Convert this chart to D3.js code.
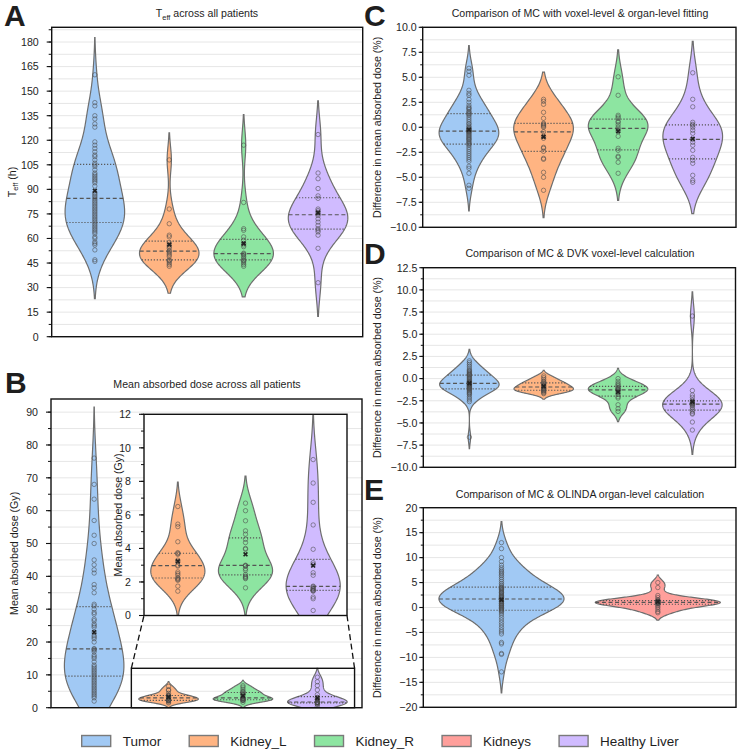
<!DOCTYPE html>
<html>
<head>
<meta charset="utf-8">
<script src="https://cdn.jsdelivr.net/npm/d3@7"></script>
<style>
  body { margin: 0; background: #fff; }
  svg { display: block; }
  text { font-family: "Liberation Sans", Arial, sans-serif; fill: #1e1e1e; }
</style>
</head>
<body>
<svg id="chart" width="742" height="752"></svg>
<script>
// ---------------- DATA ----------------
const categories = ["Tumor", "Kidney_L", "Kidney_R", "Kidneys", "Healthy Liver"];
const palette = ["#a1c9f4", "#ffb482", "#8de5a1", "#ff9f9b", "#d0bbff"];

// Panel A: effective half-life T_eff (h)
const teffTumor = [160,143,141,135,133,130,128,119,117,115,113,111,110,108,106,105,104,102,100,99,98,97,96,95,94,92,88,87,86,85,84,83,82,81,80,79,78,77,76,75,74,73,72,71,70,69,68,67,66,65,64,63,61,60,58,57,56,53,47,46];
const teffKidneyL = [108,78,69,62,61,57.5,56,55,54,52.5,52,51,50,49,47,46.5,46,45,44,43];
const teffKidneyR = [117,82,66,65,61,59,57,56,55,50.5,51,50,49,48,47,46.5,46,45,44,43];
const teffLiver = [123.5,100,96.5,90.5,86,84.5,78,77,76,75,74,72,70,68,66,65,64,62,54,33];

// Panel B: mean absorbed dose (Gy)
const doseTumor = [76,68,63.5,57,52.5,50,45,43.5,42,41,37.5,36.5,35,26.5,27,31.5,31,30,29,28.5,25.5,25,24.5,23,22,21.5,21,20,17.8,18,17.5,17,16,15.5,15,14,13,12.5,12,11.5,11,10.5,10,9.5,9,8.5,8,7.5,7,6.5,6,5.5,5,4.5,4,3.5,3,2];
const doseKidneyL = [6.5,5.45,5.3,4.4,3.75,3.7,3.65,3.3,3.2,3.0,2.95,2.6,2.5,2.4,2.25,2.2,2.15,2.1,1.75,1.45];
const doseKidneyR = [6.7,6.25,5.65,5.05,4.85,4.55,4.35,4.0,3.95,2.97,3.0,2.95,2.8,2.7,2.45,2.35,2.3,2.25,2.2,1.65];
const doseLiver = [9.3,7.9,6.75,5.4,3.95,3.15,3.05,2.55,2.4,1.75,1.72,1.65,1.6,1.55,1.5,1.48,1.45,1.1,1.0,0.3];

// Panel C: MC voxel-level vs organ-level fitting (%)
const fitTumor = [5.9,5.6,5.2,3.7,3.4,3.2,2.8,2.5,2.2,2.0,1.9,1.8,1.6,1.5,1.4,1.3,1.2,1.0,0.8,0.6,0.4,0.3,0.1,0.0,-0.1,-0.2,-0.25,-0.3,-0.35,-0.4,-0.45,-0.5,-0.6,-0.7,-0.8,-0.9,-1.0,-1.1,-1.2,-1.25,-1.4,-1.5,-1.6,-1.7,-1.8,-2.0,-2.2,-2.4,-2.6,-2.8,-3.0,-3.2,-3.4,-3.9,-4.1,-4.6,-5.8,-6.1];
const fitKidneyL = [2.8,2.6,2.3,1.5,0.9,0.4,0.3,0.2,0.1,0.0,-0.45,-0.9,-1.1,-2.0,-2.1,-2.4,-3.1,-3.2,-4.5,-5.0,-6.3];
const fitKidneyR = [5.05,3.2,1.2,1.05,0.9,0.6,0.5,0.25,0.0,-0.2,-0.4,-0.9,-2.1,-2.3,-2.9,-3.0,-3.5,-4.6];
const fitLiver = [5.45,2.8,2.05,0.5,0.3,0.2,0.0,-0.3,-0.6,-1.2,-1.5,-1.8,-2.3,-3.0,-3.3,-3.6,-4.8,-5.3,-5.5];

// Panel D: MC vs DVK voxel-level (%)
const dvkTumor = [2.0,1.8,1.6,1.4,1.2,1.0,0.9,0.8,0.7,0.6,0.5,0.45,0.4,0.3,0.2,0.1,0.0,-0.1,-0.2,-0.3,-0.35,-0.4,-0.45,-0.5,-0.55,-0.6,-0.65,-0.7,-0.75,-0.8,-0.85,-0.9,-0.95,-1.0,-1.05,-1.1,-1.15,-1.2,-1.3,-1.4,-1.5,-1.6,-1.7,-1.8,-2.0,-2.2,-2.4,-2.6,-6.6];
const dvkKidneyL = [0.3,0.1,-0.1,-0.3,-0.4,-0.5,-0.6,-0.7,-0.8,-0.9,-1.0,-1.1,-1.15,-1.2,-1.3,-1.35,-1.4,-1.5,-1.6,-1.7];
const dvkKidneyR = [0.0,-0.3,-0.55,-0.7,-0.85,-1.0,-1.1,-1.2,-1.25,-1.3,-1.4,-1.6,-1.8,-2.05,-2.2,-2.95,-3.4,-3.7];
const dvkLiver = [7.05,-1.35,-1.85,-2.1,-2.4,-2.55,-2.65,-2.75,-2.8,-2.85,-2.9,-3.0,-3.1,-3.3,-3.5,-3.7,-3.9,-4.0,-4.9,-5.8];

// Panel E: MC vs OLINDA organ-level (%)
const olindaTumor = [13.0,11.8,10.0,9.2,8.5,8.0,7.6,7.3,7.0,6.7,6.4,6.0,5.6,5.2,4.8,4.5,4.2,4.0,3.9,3.8,3.6,3.5,3.3,3.1,3.0,2.9,2.7,2.5,2.4,2.2,2.1,2.0,1.9,1.7,1.6,1.5,1.3,1.2,1.1,0.9,0.8,0.7,0.5,0.4,0.3,0.1,0.0,-0.2,-0.3,-0.5,-0.6,-0.8,-1.1,-1.5,-2.0,-2.5,-3.0,-3.5,-4.0,-4.5,-4.9,-5.3,-7.0,-7.3,-9.2,-9.4,-12.9];
const olindaKidneys = [5.0,4.0,2.4,2.0,1.6,1.4,1.3,1.2,1.15,1.1,1.05,1.0,0.95,0.9,0.85,0.8,0.6,0.3,0.0,-0.4,-0.8,-1.05];

// Tick values
const ticksA = [0,15,30,45,60,75,90,105,120,135,150,165,180];
const ticksB = [0,10,20,30,40,50,60,70,80,90];
const ticksInset = [0,2,4,6,8,10,12];
const ticksC = [-10,-7.5,-5,-2.5,0,2.5,5,7.5,10];
const ticksD = [-10,-7.5,-5,-2.5,0,2.5,5,7.5,10,12.5];
const ticksE = [-20,-15,-10,-5,0,5,10,15,20];

const titles = {
  B: "Mean absorbed dose across all patients",
  C: "Comparison of MC with voxel-level & organ-level fitting",
  D: "Comparison of MC & DVK voxel-level calculation",
  E: "Comparison of MC & OLINDA organ-level calculation"
};
const diffLabel = "Difference in mean absorbed dose (%)";
const doseLabel = "Mean absorbed dose (Gy)";

// ---------------- HELPERS ----------------
const svg = d3.select("#chart");
const FONT = 10.6;
let clipId = 0;

function kde(values) {
  const n = values.length;
  const bw = d3.deviation(values) * Math.pow(n, -0.2);
  const lo = d3.min(values) - 2 * bw, hi = d3.max(values) + 2 * bw;
  const f = t => d3.sum(values, v => Math.exp(-0.5 * ((t - v) / bw) ** 2)) / (n * bw * Math.sqrt(2 * Math.PI));
  const pts = d3.range(201).map(i => { const t = lo + (hi - lo) * i / 200; return [t, f(t)]; });
  return { pts, f, maxD: d3.max(pts, p => p[1]) };
}

function makeClip(box) {
  const id = "clip" + (clipId++);
  svg.append("clipPath").attr("id", id).append("rect")
    .attr("x", box.x0).attr("y", box.y0).attr("width", box.x1 - box.x0).attr("height", box.y1 - box.y0);
  return "url(#" + id + ")";
}

function grid(g, box, y, step) {
  const [a, b] = y.domain();
  const vals = d3.range(Math.ceil(a / step) * step, b + 1e-9, step);
  g.selectAll(null).data(vals).join("line")
    .attr("x1", box.x0).attr("x2", box.x1)
    .attr("y1", d => y(d)).attr("y2", d => y(d))
    .attr("stroke", "#e6e6e6").attr("stroke-width", 1);
}

function frame(g, box, y, majors, minorStep, fmt, opt) {
  g.append("rect").attr("x", box.x0).attr("y", box.y0)
    .attr("width", box.x1 - box.x0).attr("height", box.y1 - box.y0)
    .attr("fill", "none").attr("stroke", "#111").attr("stroke-width", 1.4);
  const [a, b] = y.domain();
  const minors = d3.range(Math.ceil(a / minorStep) * minorStep, b + 1e-9, minorStep);
  g.selectAll(null).data(minors).join("line")
    .attr("x1", box.x0 - opt.minorLen).attr("x2", box.x0)
    .attr("y1", d => y(d)).attr("y2", d => y(d))
    .attr("stroke", "#111").attr("stroke-width", 1);
  g.selectAll(null).data(majors).join("line")
    .attr("x1", box.x0 - opt.majorLen).attr("x2", box.x0)
    .attr("y1", d => y(d)).attr("y2", d => y(d))
    .attr("stroke", "#111").attr("stroke-width", 1.1);
  g.selectAll(null).data(majors).join("text")
    .attr("x", box.x0 - opt.gap).attr("y", d => y(d)).attr("dy", "0.36em")
    .attr("text-anchor", "end").attr("font-size", FONT)
    .text(d => fmt(d));
}

function violin(g, x, y, values, pos, color) {
  const k = kde(values);
  const cx = x(pos);
  const half = x(pos + 0.4) - cx;
  const hw = d => half * d / k.maxD;
  const area = d3.area().y(p => y(p[0])).x0(p => cx - hw(p[1])).x1(p => cx + hw(p[1]));
  g.append("path").attr("d", area(k.pts)).attr("fill", color)
    .attr("stroke", "#6e6e6e").attr("stroke-width", 1.2);
  const sorted = values.slice().sort(d3.ascending);
  [[0.25, "1.2,1.8"], [0.5, "4,2.6"], [0.75, "1.2,1.8"]].forEach(([p, dash]) => {
    const q = d3.quantile(sorted, p);
    const w = hw(k.f(q));
    g.append("line").attr("x1", cx - w).attr("x2", cx + w)
      .attr("y1", y(q)).attr("y2", y(q))
      .attr("stroke", "#555").attr("stroke-width", 1.2).attr("stroke-dasharray", dash);
  });
  g.selectAll(null).data(values).join("circle")
    .attr("cx", cx).attr("cy", d => y(d)).attr("r", 2.2)
    .attr("fill", "none").attr("stroke", "#4a4a4a").attr("stroke-opacity", 0.7).attr("stroke-width", 0.8);
  const m = y(d3.mean(values));
  g.append("path").attr("d", `M${cx-1.9},${m-1.9}L${cx+1.9},${m+1.9}M${cx-1.9},${m+1.9}L${cx+1.9},${m-1.9}`)
    .attr("stroke", "#222").attr("stroke-width", 1.7);
}

function ylabel(cx, cy, parts) {
  const t = svg.append("text").attr("transform", `translate(${cx},${cy}) rotate(-90)`)
    .attr("text-anchor", "middle").attr("dy", "0.36em").attr("font-size", FONT);
  parts.forEach(p => {
    const s = t.append("tspan").text(p.t);
    if (p.sub) s.attr("font-size", FONT * 0.7).attr("dy", 2.5);
    if (p.after) s.attr("dy", -2.5);
  });
}
function title(cx, cy, parts) {
  const t = svg.append("text").attr("x", cx).attr("y", cy).attr("text-anchor", "middle").attr("font-size", FONT);
  parts.forEach(p => {
    const s = t.append("tspan").text(p.t);
    if (p.sub) s.attr("font-size", FONT * 0.7).attr("dy", 2.5);
    if (p.after) s.attr("dy", -2.5);
  });
}
function letter(x, y, s) {
  svg.append("text").attr("x", x).attr("y", y).attr("font-size", 30).attr("font-weight", "bold").text(s);
}

const fmtInt = d3.format("d");
const fmt1 = d3.format(".1f");
const bigTicks = { majorLen: 5, minorLen: 3, gap: 13 };
const smallTicks = { majorLen: 4, minorLen: 2.5, gap: 6 };

// ---------------- PANEL A ----------------
{
  const box = { x0: 51.7, x1: 362.7, y0: 27.3, y1: 336.7 };
  const x = d3.scaleLinear().domain([-0.58, 3.6]).range([box.x0, box.x1]);
  const y = d3.scaleLinear().domain([0, 189]).range([box.y1, box.y0]);
  const g = svg.append("g");
  grid(g, box, y, 7.5);
  const gv = svg.append("g").attr("clip-path", makeClip(box));
  [[teffTumor, 0], [teffKidneyL, 1], [teffKidneyR, 2], [teffLiver, 4]].forEach(([v, c], i) => violin(gv, x, y, v, i, palette[c]));
  frame(svg.append("g"), box, y, ticksA, 7.5, fmtInt, bigTicks);
  ylabel(12, (box.y0 + box.y1) / 2, [{ t: "T" }, { t: "eff", sub: true }, { t: " (h)", after: true }]);
  title(207, 17, [{ t: "T" }, { t: "eff", sub: true }, { t: " across all patients", after: true }]);
  letter(4, 26, "A");
}

// ---------------- PANEL B ----------------
{
  const box = { x0: 51, x1: 362, y0: 399, y1: 707.7 };
  const x = d3.scaleLinear().domain([-0.58, 3.6]).range([box.x0, box.x1]);
  const y = d3.scaleLinear().domain([0, 94]).range([box.y1, box.y0]);
  const g = svg.append("g");
  grid(g, box, y, 5);
  const gv = svg.append("g").attr("clip-path", makeClip(box));
  [[doseTumor, 0], [doseKidneyL, 1], [doseKidneyR, 2], [doseLiver, 4]].forEach(([v, c], i) => violin(gv, x, y, v, i, palette[c]));

  // inset (zoom of 0–12 Gy for the organs)
  const ib = { x0: 144, x1: 347, y0: 414.3, y1: 615.5 };
  const zoomLo = 0, zoomHi = 12, zx0 = 0.5, zx1 = 3.5;
  const gz = svg.append("g");
  gz.append("rect").attr("x", x(zx0)).attr("y", y(zoomHi)).attr("width", x(zx1) - x(zx0)).attr("height", y(zoomLo) - y(zoomHi))
    .attr("fill", "none").attr("stroke", "#111").attr("stroke-width", 1.4);
  gz.append("line").attr("x1", x(zx0)).attr("y1", y(zoomHi)).attr("x2", ib.x0).attr("y2", ib.y1)
    .attr("stroke", "#111").attr("stroke-width", 1.3).attr("stroke-dasharray", "6,3.5");
  gz.append("line").attr("x1", x(zx1)).attr("y1", y(zoomHi)).attr("x2", ib.x1).attr("y2", ib.y1)
    .attr("stroke", "#111").attr("stroke-width", 1.3).attr("stroke-dasharray", "6,3.5");

  const xi = d3.scaleLinear().domain([zx0, zx1]).range([ib.x0, ib.x1]);
  const yi = d3.scaleLinear().domain([zoomLo, zoomHi]).range([ib.y1, ib.y0]);
  svg.append("rect").attr("x", ib.x0).attr("y", ib.y0).attr("width", ib.x1 - ib.x0).attr("height", ib.y1 - ib.y0).attr("fill", "#fff");
  const gi = svg.append("g").attr("clip-path", makeClip(ib));
  [[doseKidneyL, 1], [doseKidneyR, 2], [doseLiver, 4]].forEach(([v, c], i) => violin(gi, xi, yi, v, i + 1, palette[c]));
  frame(svg.append("g"), ib, yi, ticksInset, 1, fmtInt, bigTicks);
  ylabel(118, (ib.y0 + ib.y1) / 2, [{ t: doseLabel }]);

  frame(svg.append("g"), box, y, ticksB, 5, fmtInt, bigTicks);
  ylabel(14, (box.y0 + box.y1) / 2, [{ t: doseLabel }]);
  title(207, 388, [{ t: titles.B }]);
  letter(5, 393, "B");
}

// ---------------- PANELS C, D ----------------
function diffPanel(box, ydom, ticks, minor, data, ttl, ty, L, ly) {
  const x = d3.scaleLinear().domain([-0.62, 3.58]).range([box.x0, box.x1]);
  const y = d3.scaleLinear().domain(ydom).range([box.y1, box.y0]);
  grid(svg.append("g"), box, y, minor);
  const gv = svg.append("g").attr("clip-path", makeClip(box));
  data.forEach(([v, c], i) => violin(gv, x, y, v, i, palette[c]));
  frame(svg.append("g"), box, y, ticks, minor, fmt1, smallTicks);
  ylabel(377.5, (box.y0 + box.y1) / 2, [{ t: diffLabel }]);
  title(580, ty, [{ t: ttl }]);
  letter(364, ly, L);
}
diffPanel({ x0: 422.7, x1: 736, y0: 27.3, y1: 227.3 }, [-10, 10], ticksC, 1.25,
  [[fitTumor, 0], [fitKidneyL, 1], [fitKidneyR, 2], [fitLiver, 4]], titles.C, 17, "C", 26);
diffPanel({ x0: 423.3, x1: 735.5, y0: 267.7, y1: 467.3 }, [-10, 12.5], ticksD, 1.25,
  [[dvkTumor, 0], [dvkKidneyL, 1], [dvkKidneyR, 2], [dvkLiver, 4]], titles.D, 257, "D", 264);

// ---------------- PANEL E ----------------
{
  const box = { x0: 423.3, x1: 736, y0: 507.7, y1: 707.3 };
  const x = d3.scaleLinear().domain([-0.5, 1.5]).range([box.x0, box.x1]);
  const y = d3.scaleLinear().domain([-20, 20]).range([box.y1, box.y0]);
  grid(svg.append("g"), box, y, 2.5);
  const gv = svg.append("g").attr("clip-path", makeClip(box));
  [[olindaTumor, 0], [olindaKidneys, 3]].forEach(([v, c], i) => violin(gv, x, y, v, i, palette[c]));
  frame(svg.append("g"), box, y, ticksE, 2.5, fmtInt, smallTicks);
  ylabel(377.5, (box.y0 + box.y1) / 2, [{ t: diffLabel }]);
  title(580, 498, [{ t: titles.E }]);
  letter(364, 500, "E");
}

// ---------------- LEGEND ----------------
{
  const g = svg.append("g");
  let cx = 81.7;
  const cy = 741;
  categories.forEach((c, i) => {
    g.append("rect").attr("x", cx).attr("y", cy - 5.5).attr("width", 29).attr("height", 11)
      .attr("fill", palette[i]).attr("stroke", "#7a7a7a").attr("stroke-width", 1.4);
    const t = g.append("text").attr("x", cx + 41).attr("y", cy).attr("dy", "0.36em")
      .attr("font-size", 13.5).text(c);
    cx += 41 + t.node().getComputedTextLength() + 28;
  });
}
</script>
</body>
</html>
